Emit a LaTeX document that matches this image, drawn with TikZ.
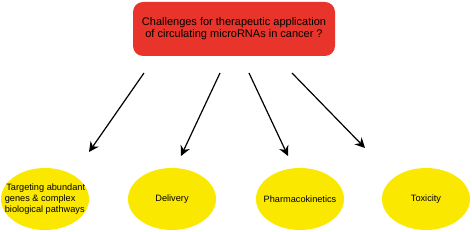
\documentclass[tikz,border=0pt]{standalone}
\usepackage{fontspec}
\setmainfont{Liberation Sans}
\usetikzlibrary{positioning, arrows.meta, shapes.geometric}

\definecolor{boxred}{RGB}{232,52,42}
\definecolor{ovalyellow}{RGB}{250,232,0}

\begin{document}
\begin{tikzpicture}[
    x=1pt, y=1pt,
    box/.style={rectangle, rounded corners=10pt, fill=boxred, minimum width=202pt, minimum height=54pt, align=center, font=\fontsize{11}{12}\selectfont},
    oval/.style={ellipse, fill=ovalyellow, minimum width=88pt, minimum height=62pt, inner sep=0pt},
    ovaltext/.style={align=left, inner sep=0pt, font=\fontsize{9.2}{11}\selectfont},
    arrow/.style={-{Stealth[length=10pt, width=10pt]}, line width=1.2pt}
]
\useasboundingbox (0,0) rectangle (472,232);

% Central question
\node[box] (challenge) at (234,203) {Challenges for therapeutic application\\of circulating microRNAs in cancer ?};

% Challenges
\node[oval, label={[ovaltext]center:\,Targeting abundant\\genes \& complex\\biological pathways}] (target) at (45,33) {};
\node[oval, label={[ovaltext]center:Delivery}] (delivery) at (172,33) {};
\node[oval, label={[ovaltext]center:Pharmacokinetics}] (pharma) at (300,33) {};
\node[oval, label={[ovaltext]center:Toxicity}] (toxic) at (426,33) {};

% Arrow ends
\coordinate (t1) at (144,159);
\coordinate (h1) at (89,80);
\coordinate (t2) at (220,159);
\coordinate (h2) at (181,76);
\coordinate (t3) at (249,159);
\coordinate (h3) at (288,76);
\coordinate (t4) at (292,159);
\coordinate (h4) at (365,84);

\draw[arrow] (t1) -- (h1);
\draw[arrow] (t2) -- (h2);
\draw[arrow] (t3) -- (h3);
\draw[arrow] (t4) -- (h4);

\end{tikzpicture}
\end{document}
